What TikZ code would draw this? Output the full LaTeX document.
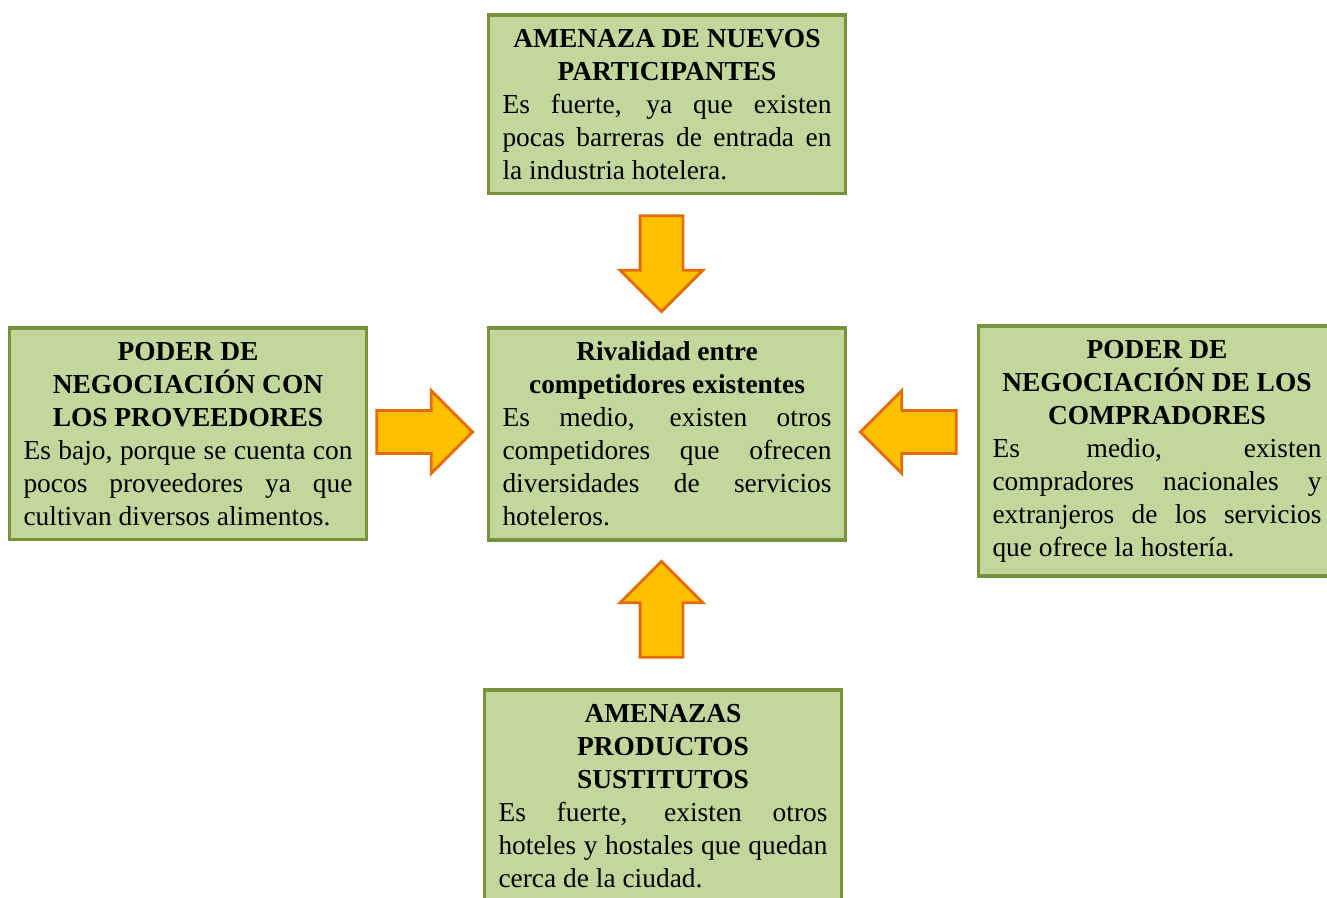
\documentclass[tikz,border=0pt]{standalone}
\usepackage{fontspec}
\setmainfont{Liberation Serif}
\usetikzlibrary{shapes.arrows}
\definecolor{cajaverde}{HTML}{C3D69B}
\definecolor{bordeverde}{HTML}{77933C}
\definecolor{flechaamarilla}{HTML}{FFC000}
\definecolor{flechanaranja}{HTML}{E46C0A}

\begin{document}
\begin{tikzpicture}[
  fuerza/.style={draw=bordeverde, fill=cajaverde, line width=1.1pt, anchor=north,
    text width=3.29cm, align=justify, inner xsep=0.14cm, inner ysep=0.14cm,
    font=\fontsize{7.8pt}{9.39pt}\selectfont},
  flecha/.style={single arrow, draw=flechanaranja, fill=flechaamarilla, line width=0.8pt,
    single arrow head extend=0.2cm, inner sep=0.2cm, minimum height=0.96cm}
]
  % marco
  \clip (0,0) rectangle (13.27,-8.97);

  % fuerzas
  \node[fuerza] (nuevos) at (6.67,-0.13)
    {{\centering\bfseries AMENAZA DE NUEVOS\\PARTICIPANTES\par}%
     Es fuerte, ya que existen\linebreak pocas barreras de entrada en\linebreak la industria hotelera.};
  \node[fuerza] (proveedores) at (1.88,-3.26)
    {{\centering\bfseries PODER DE\\NEGOCIACIÓN CON\\LOS PROVEEDORES\par}%
     Es bajo, porque se cuenta con\linebreak pocos proveedores ya que\linebreak cultivan diversos alimentos.};
  \node[fuerza] (rivalidad) at (6.67,-3.26)
    {{\centering\bfseries Rivalidad entre\\competidores existentes\par}%
     Es medio, existen otros\linebreak competidores que ofrecen\linebreak diversidades de servicios\linebreak hoteleros.};
  \node[fuerza] (compradores) at (11.57,-3.24)
    {{\centering\bfseries PODER DE\\NEGOCIACIÓN DE LOS\\COMPRADORES\par}%
     Es medio, existen\linebreak compradores nacionales y\linebreak extranjeros de los servicios\linebreak que ofrece la hostería.};
  \node[fuerza] (sustitutos) at (6.63,-6.88)
    {{\centering\bfseries AMENAZAS\\PRODUCTOS\\SUSTITUTOS\par}%
     Es fuerte, existen otros\linebreak hoteles y hostales que quedan\linebreak cerca de la ciudad.};

  % flechas hacia la rivalidad
  \node[flecha, rotate=270] (flechaN) at (6.615,-2.53) {};
  \node[flecha, rotate=90] (flechaS) at (6.615,-6.20) {};
  \node[flecha] (flechaO) at (4.14,-4.32) {};
  \node[flecha, rotate=180] (flechaE) at (9.19,-4.32) {};
\end{tikzpicture}
\end{document}
